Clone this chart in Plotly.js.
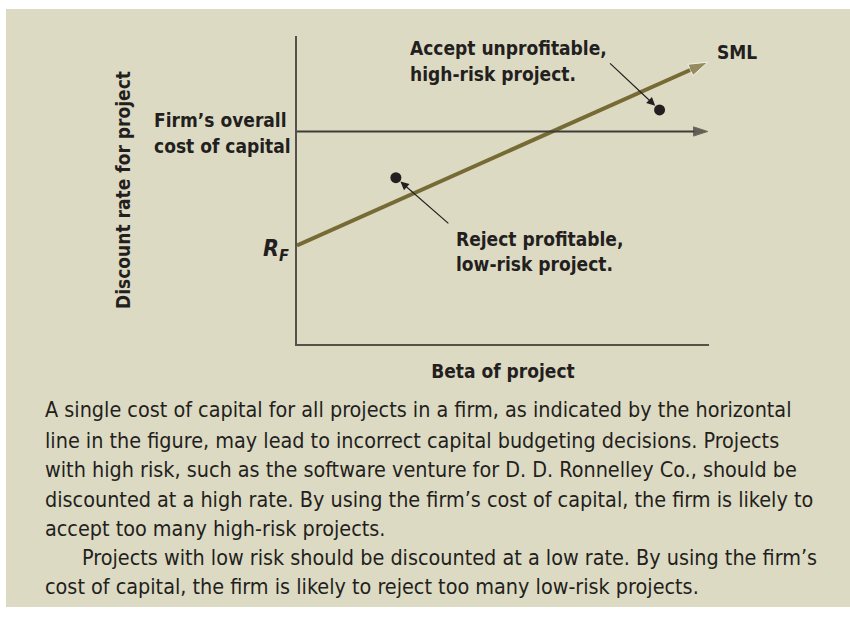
<!DOCTYPE html>
<html>
<head>
<meta charset="utf-8">
<script src="https://cdn.plot.ly/plotly-3.0.1.min.js"></script>
<style>
  body { margin: 0; background: #ffffff; }
  #plotArea { position: absolute; left: 6px; top: 9px; width: 844px; height: 598px; }
</style>
</head>
<body>
<div id="plotArea"></div>
<script>
// SML against a single firm-wide cost of capital
var smlBeta = [0, 9.97];
var smlRate = [3.2, 9.15];

var firmBeta = [0, 9.97];
var firmRate = [6.9, 6.9];

var projectBeta = [8.8, 2.4];
var projectRate = [7.6, 5.4];

var captionLines = [
  "A single cost of capital for all projects in a firm, as indicated by the horizontal",
  "line in the figure, may lead to incorrect capital budgeting decisions. Projects",
  "with high risk, such as the software venture for D. D. Ronnelley Co., should be",
  "discounted at a high rate. By using the firm\u2019s cost of capital, the firm is likely to",
  "accept too many high-risk projects.",
  "Projects with low risk should be discounted at a low rate. By using the firm\u2019s",
  "cost of capital, the firm is likely to reject too many low-risk projects."
];
var captionIndent = [43, 43, 43, 43, 43, 80, 43];
var captionY = [410, 440, 469, 499, 528, 557, 586];

var ink = "#231f20";
var olive = "#766a35";
var axisGrey = "#55524b";
var narrow = "Liberation Sans Narrow, DejaVu Sans Condensed, Roboto, sans-serif";

// page pixels -> paper coords of the plot area
var plotLeft = 297, plotRight = 709, plotTop = 36, plotBottom = 344;
function px(x) { return (x - plotLeft) / (plotRight - plotLeft); }
function py(y) { return (plotBottom - y) / (plotBottom - plotTop); }

function label(text, x, y, anchor, size, bold) {
  return {
    text: bold ? "<b>" + text + "</b>" : text,
    xref: "paper", yref: "paper",
    x: px(x), y: py(y),
    xanchor: anchor, yanchor: "middle",
    showarrow: false,
    font: {family: narrow, size: size, color: ink}
  };
}

var sml = {
  x: smlBeta, y: smlRate,
  mode: "lines+markers",
  line: {color: olive, width: 4},
  marker: {symbol: ["circle", "arrow"], size: [0, 20], color: olive, angleref: "previous"},
  hoverinfo: "skip"
};

var firmLine = {
  x: firmBeta, y: firmRate,
  mode: "lines+markers",
  line: {color: "#403d38", width: 2},
  marker: {symbol: ["circle", "arrow"], size: [0, 15], color: "#2e2b27", angleref: "previous"},
  hoverinfo: "skip"
};

var projects = {
  x: projectBeta, y: projectRate,
  mode: "markers",
  marker: {color: ink, size: 11},
  hoverinfo: "skip"
};

var data = [sml, firmLine, projects];

var annotations = [
  label("Accept unprofitable,", 408, 48, "left", 19, true),
  label("high-risk project.", 408, 74, "left", 19, true),
  label("Reject profitable,", 454, 239, "left", 19, true),
  label("low-risk project.", 454, 264, "left", 19, true),
  label("SML", 715, 52, "left", 19, true),
  label("Firm\u2019s overall", 152, 120, "left", 19, true),
  label("cost of capital", 152, 146, "left", 19, true),
  label("<i>R<sub>F</sub></i>", 291, 250, "right", 23, true),
  {
    x: projectBeta[0], y: projectRate[0], xref: "x", yref: "y",
    ax: -51, ay: -48, text: "", showarrow: true,
    arrowhead: 2, arrowsize: 1.4, arrowwidth: 1.2, arrowcolor: ink, standoff: 6
  },
  {
    x: projectBeta[1], y: projectRate[1], xref: "x", yref: "y",
    ax: 54, ay: 47, text: "", showarrow: true,
    arrowhead: 2, arrowsize: 1.4, arrowwidth: 1.2, arrowcolor: ink, standoff: 6
  }
];

for (var i = 0; i < captionLines.length; i++) {
  annotations.push(label(captionLines[i], captionIndent[i], captionY[i], "left", 21.4, false));
}

var layout = {
  width: 844, height: 598,
  margin: {l: 291, r: 141, t: 27, b: 263},
  paper_bgcolor: "#dddac3",
  plot_bgcolor: "#dddac3",
  showlegend: false,
  xaxis: {
    range: [0, 10],
    showline: true, linecolor: axisGrey, linewidth: 2,
    showgrid: false, zeroline: false, showticklabels: false, ticks: "",
    title: {text: "<b>Beta of project</b>", font: {family: narrow, size: 19, color: ink}, standoff: 20}
  },
  yaxis: {
    range: [0, 10],
    showline: true, linecolor: axisGrey, linewidth: 2,
    showgrid: false, zeroline: false, showticklabels: false, ticks: "",
    title: {text: "<b>Discount rate for project</b>", font: {family: narrow, size: 19, color: ink}, standoff: 159}
  },
  annotations: annotations
};

Plotly.newPlot("plotArea", data, layout, {staticPlot: true});
</script>
</body>
</html>
